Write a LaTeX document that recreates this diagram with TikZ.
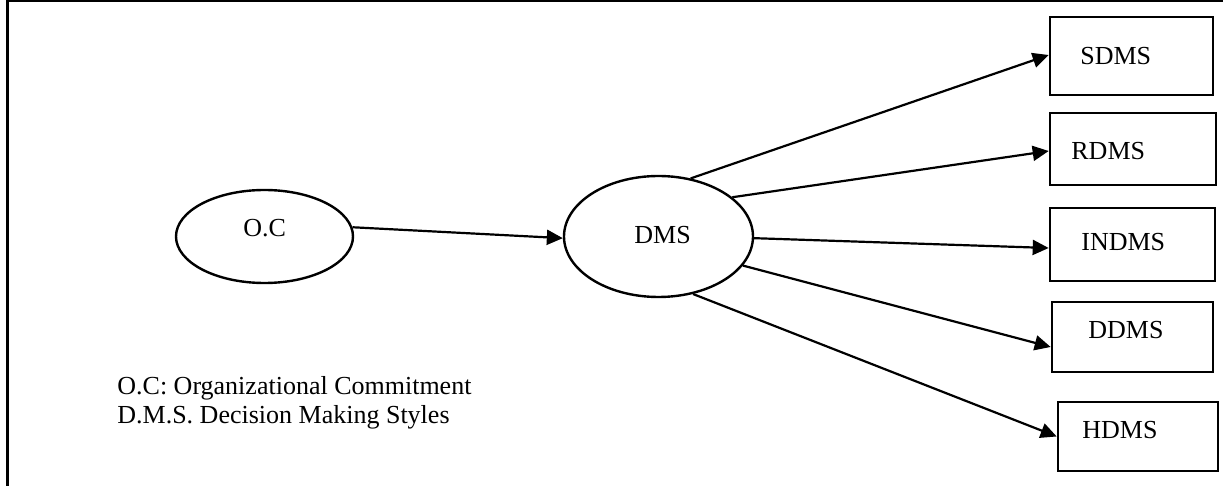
\documentclass[tikz,border=0pt]{standalone}
\usepackage{fontspec}
\setmainfont{Liberation Serif}
\usetikzlibrary{arrows.meta,shapes.geometric}
\begin{document}
\begin{tikzpicture}[x=0.5pt,y=-0.5pt,
  every node/.style={font=\fontsize{13}{15}\selectfont},
  oval/.style={draw,ellipse,line width=1.2pt,inner sep=0pt},
  boxnode/.style={draw,rectangle,line width=1.3pt,inner sep=0pt},
  txt/.style={anchor=base west,inner sep=0pt},
  conn/.style={line width=1.1pt,-{Triangle[length=8pt,width=7.5pt]}},
  frameline/.style={line width=1.1pt}]
\useasboundingbox (0,0) rectangle (1223,486);
% frame
\coordinate (f1) at (7.5,486);
\coordinate (f2) at (7.5,1);
\coordinate (f3) at (1223,1);
\draw[frameline] (f1) -- (f2) -- (f3);
% ellipses
\node[oval,minimum width=88.5pt,minimum height=46.5pt] (OC) at (264.5,236.5) {};
\node[oval,minimum width=94.5pt,minimum height=60.5pt] (DMS) at (658.5,236.5) {};
\node[txt] (tOC) at (243,237) {O.C};
\node[txt] (tDMS) at (634,244) {DMS};
% boxes
\node[boxnode,minimum width=81.5pt,minimum height=39pt] (SDMS) at (1131.5,56) {};
\node[boxnode,minimum width=83pt,minimum height=36pt] (RDMS) at (1133,149) {};
\node[boxnode,minimum width=82.5pt,minimum height=36.5pt] (INDMS) at (1132.5,244.5) {};
\node[boxnode,minimum width=80.5pt,minimum height=35pt] (DDMS) at (1132.5,337) {};
\node[boxnode,minimum width=80pt,minimum height=34.5pt] (HDMS) at (1138,436.5) {};
\node[txt] (tSDMS) at (1080,65) {SDMS};
\node[txt] (tRDMS) at (1071,160) {RDMS};
\node[txt] (tINDMS) at (1081,251) {INDMS};
\node[txt] (tDDMS) at (1088,339) {DDMS};
\node[txt] (tHDMS) at (1082,439) {HDMS};
% legend
\node[txt] (leg1) at (117,395) {O.C: Organizational Commitment};
\node[txt] (leg2) at (117,424) {D.M.S. Decision Making Styles};
% connectors
\draw[conn] (OC.6.8) -- (DMS.181);
\draw[conn] (DMS.61.7) -- ([yshift=0.5pt]SDMS.west);
\draw[conn] (DMS.28.9) -- ([yshift=-1pt]RDMS.west);
\draw[conn] (DMS.-1.5) -- ([yshift=-1.75pt]INDMS.west);
\draw[conn] (DMS.-19.4) -- ([yshift=-5pt]DDMS.west);
\draw[conn] (DMS.-59) -- (HDMS.west);
\end{tikzpicture}
\end{document}
